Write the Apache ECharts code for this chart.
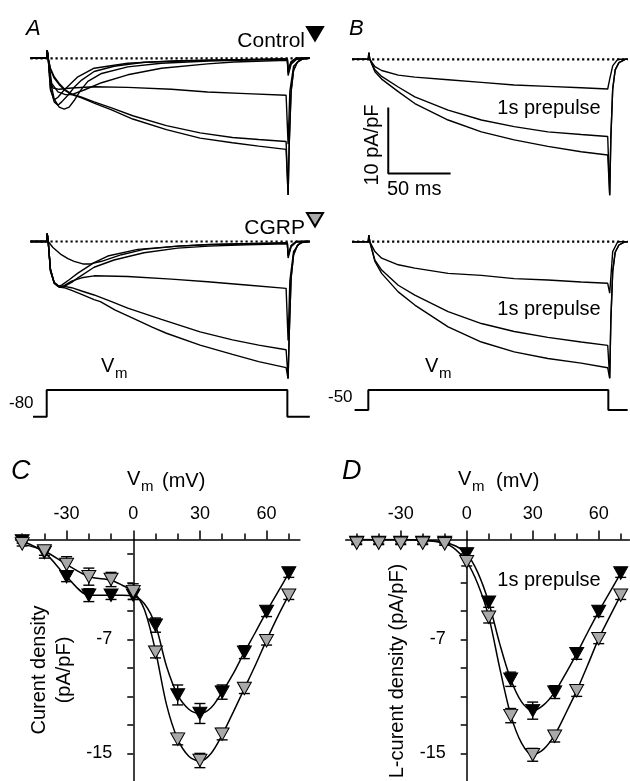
<!DOCTYPE html>
<html><head><meta charset="utf-8">
<script src="https://cdn.jsdelivr.net/npm/echarts@6/dist/echarts.min.js"></script>
<style>html,body{margin:0;padding:0;background:#fff}#c{width:630px;height:781px}</style>
</head><body><div id="c"></div>
<script>
// ---------- Panel A/B current traces: [time ms, current pA/pF] ----------
const ctlT1 = [[-13,0],[0,0],[0.4,1.2],[1.2,0],[3,-3.5],[6,-6.2],[10,-7.4],[14,-7.7],[18,-7.4],[22,-6.4],[27,-4.9],[33,-3.5],[44,-2.3],[65,-1.3],[92,-0.75],[130,-0.4],[160,-0.25],[193,-0.15],[193.6,-2.2],[196,-0.7],[200,0],[211,0]];
const ctlT2 = [[-13,0],[0,0],[0.4,1.2],[1.2,0],[3,-4.5],[6,-6.6],[9,-7.1],[12,-6.6],[17,-5.6],[22,-4.4],[28,-3.3],[38,-2.0],[54,-1.2],[78,-0.6],[130,-0.3],[193,-0.1],[193.6,-2.0],[196,-0.6],[200,0],[211,0]];
const ctlT3 = [[-13,0],[0,0],[0.4,1.2],[1.2,0],[3,-4.8],[6,-6.3],[9,-5.9],[14,-4.8],[20,-3.7],[25,-2.8],[38,-1.5],[65,-0.76],[105,-0.35],[193,-0.1],[193.6,-1.8],[196,-0.5],[200,0],[211,0]];
const ctlT4 = [[-13,0],[0,0],[0.4,1.2],[1.2,0],[4,-3.8],[9,-5.1],[15,-5.5],[20,-5.5],[30,-4.8],[44,-3.7],[65,-2.5],[92,-1.5],[129,-0.85],[150,-0.55],[193,-0.3],[193.6,-2.6],[196,-0.9],[200,-0.2],[211,0]];
const ctlF  = [[-13,0],[0,0],[0.4,1.2],[1.2,0],[3,-3.6],[5,-4.5],[10,-4.7],[20,-4.5],[38,-4.3],[65,-4.4],[100,-4.7],[129,-5.1],[160,-5.35],[192,-5.6],[193,-5.6],[193.6,-13],[195,-5],[198,-1.2],[203,-0.2],[211,0]];
const ctlL1 = [[-13,0],[0,0],[0.4,1.2],[1.2,0],[3,-1.5],[6,-2.8],[10,-3.8],[15,-4.8],[20,-5.4],[28,-5.9],[38,-6.6],[52,-7.5],[69,-8.7],[96,-10.2],[123,-11.3],[149,-12.0],[170,-12.3],[192,-12.6],[193,-12.6],[193.6,-20.7],[194.5,-13],[196,-5],[198,-1.8],[201,-0.6],[206,0],[211,0]];
const ctlL2 = [[-13,0],[0,0],[0.4,1.2],[1.2,0],[3,-1.7],[6,-3.0],[10,-4.0],[15,-4.9],[20,-5.5],[28,-6.0],[38,-6.8],[52,-7.8],[69,-9.2],[96,-10.8],[123,-12.1],[149,-12.8],[170,-13.3],[192,-13.8],[193,-13.8],[193.6,-20.7],[194.5,-13],[196,-5],[198,-1.8],[201,-0.6],[206,0],[211,0]];

const cgrpG1 = [[-13,0],[0,0],[0.4,1.2],[1.2,0],[5,-0.9],[11.7,-2.0],[17,-2.6],[22,-3.0],[29,-3.4],[35,-3.4],[44,-3.0],[60,-2.0],[78,-1.2],[105,-0.7],[129,-0.5],[160,-0.35],[193,-0.25],[193.6,-2],[196,-0.6],[200,0],[211,0]];
const cgrpG2 = [[-13,0],[0,0],[0.4,1.2],[1.2,0],[3,-4.5],[6,-6.3],[9,-6.8],[12,-6.6],[18,-5.8],[25,-4.8],[38,-3.2],[49,-2.2],[73,-1.2],[105,-0.7],[130,-0.45],[193,-0.2],[193.6,-2.2],[196,-0.7],[200,0],[211,0]];
const cgrpG3 = [[-13,0],[0,0],[0.4,1.2],[1.2,0],[3,-4.2],[6,-6.2],[10,-6.9],[14,-6.8],[20,-6.2],[25,-5.5],[38,-3.9],[54,-2.8],[78,-1.7],[105,-1.0],[130,-0.7],[160,-0.5],[193,-0.35],[193.6,-2.5],[196,-0.8],[200,-0.1],[211,0]];
const cgrpF  = [[-13,0],[0,0],[0.4,1.2],[1.2,0],[3,-4.2],[6,-6.3],[10,-6.9],[14,-6.7],[20,-6.0],[28,-5.5],[38,-5.2],[65,-5.3],[100,-5.7],[129,-6.1],[160,-6.6],[192,-7.1],[193,-7.1],[193.6,-15],[195,-6],[198,-1.5],[203,-0.2],[211,0]];
const cgrpS1 = [[-13,0],[0,0],[0.4,1.2],[1.2,0],[3,-4.3],[6,-6.2],[10,-6.8],[14,-6.8],[20,-7.0],[28,-7.5],[38,-8.1],[52,-9.1],[65,-10.1],[92,-11.8],[123,-13.7],[149,-14.9],[170,-15.7],[192,-16.4],[193,-16.4],[193.6,-20.7],[194.5,-14],[196,-5.5],[198,-2],[201,-0.6],[206,0],[211,0]];
const cgrpS2 = [[-13,0],[0,0],[0.4,1.2],[1.2,0],[3,-4.4],[6,-6.3],[10,-6.9],[14,-7.0],[20,-7.4],[28,-8.0],[38,-8.8],[43,-9.1],[55,-10.4],[69,-11.6],[85,-13.0],[96,-13.9],[123,-15.7],[149,-17.1],[170,-18.2],[192,-19.1],[193,-19.1],[193.6,-20.8],[194.5,-14],[196,-5.5],[198,-2],[201,-0.6],[206,0],[211,0]];

const preCtl1 = [[-13,0],[0,0],[0.4,1.0],[1.2,0],[5.3,-1.1],[10.7,-1.7],[24,-2.4],[37.3,-2.7],[64,-3.1],[90.7,-3.5],[117,-3.9],[144,-4.1],[170.7,-4.3],[192,-4.5],[193,-4.5],[193.6,-3],[196,-1],[200,0],[208,0]];
const preCtl2 = [[-13,0],[0,0],[0.4,1.0],[1.2,0],[5.3,-1.6],[10.7,-2.6],[24,-4.2],[37.3,-5.7],[64,-7.7],[90.7,-9.2],[117,-10.2],[144,-11.0],[170.7,-11.4],[192,-11.7],[193,-11.7],[193.6,-20.6],[194.5,-12],[196,-4.5],[198,-1.6],[201,-0.5],[206,0],[208,0]];
const preCtl3 = [[-13,0],[0,0],[0.4,1.0],[1.2,0],[5.3,-1.9],[10.7,-3.0],[24,-4.9],[37.3,-6.7],[64,-9.2],[90.7,-11.0],[117,-12.2],[144,-13.2],[170.7,-14.0],[192,-14.5],[193,-14.5],[193.6,-20.6],[194.5,-12],[196,-4.5],[198,-1.6],[201,-0.5],[206,0],[208,0]];
const preCgrp1 = [[-13,0],[0,0],[0.4,1.0],[1.2,0],[5.3,-1.5],[10.7,-2.5],[24,-3.5],[37.3,-4.0],[64,-4.8],[90.7,-5.1],[117,-5.6],[144,-5.8],[170.7,-6.1],[192,-6.3],[193,-6.3],[193.6,-7.8],[196,-1.5],[200,0],[208,0]];
const preCgrp2 = [[-13,0],[0,0],[0.4,1.0],[1.2,0],[5.3,-2.8],[10.7,-4.3],[24,-6.6],[37.3,-8.1],[64,-10.6],[90.7,-12.4],[117,-13.6],[144,-14.5],[170.7,-15.2],[192,-15.7],[193,-15.7],[193.6,-20.7],[194.5,-12],[196,-4.5],[198,-1.6],[201,-0.5],[206,0],[208,0]];
const preCgrp3 = [[-13,0],[0,0],[0.4,1.0],[1.2,0],[5.3,-3.0],[10.7,-4.8],[24,-7.6],[37.3,-9.6],[64,-12.9],[90.7,-15.2],[117,-16.7],[144,-17.7],[170.7,-18.4],[192,-19.1],[193,-19.1],[193.6,-20.7],[194.5,-12],[196,-4.5],[198,-1.6],[201,-0.5],[206,0],[208,0]];

const baselineA = [[-13,0],[211,0]];
const baselineB = [[-13,0],[208,0]];
const scaleBar = [[16,-7.3],[16,-17.3],[66,-17.3]];   // 10 pA/pF, 50 ms
const protoA = [[-11,-80],[0,-80],[0,0],[193,0],[193,-80],[211,-80]];
const protoB = [[-11,-50],[0,-50],[0,0],[192.5,0],[192.5,-50],[208,-50]];

// ---------- Panels C/D: I-V ----------
const volts = [-50,-40,-30,-20,-10,0,10,20,30,40,50,60,70];
const ctlC  = [-0.1,-0.9,-2.6,-3.9,-3.9,-3.9,-6.0,-10.9,-12.2,-10.7,-7.9,-5.05,-2.35];
const cgrpC = [-0.3,-0.8,-1.75,-2.6,-2.8,-3.65,-7.9,-14.0,-15.5,-13.65,-10.45,-7.1,-3.9];
const ctlCErr  = [0.15,0.4,0.35,0.45,0.3,0.3,0.5,0.7,0.7,0.5,0.45,0.35,0.3];
const cgrpCErr = [0.15,0.3,0.55,0.6,0.5,0.55,0.4,0.4,0.5,0.4,0.35,0.3,0.3];
const ctlD  = [-0.2,-0.2,-0.2,-0.2,-0.2,-1.0,-4.4,-9.8,-12.0,-10.7,-8.0,-5.05,-2.35];
const cgrpD = [-0.25,-0.25,-0.25,-0.25,-0.3,-1.55,-5.45,-12.35,-15.1,-13.8,-10.6,-6.95,-3.9];
const ctlDErr  = [0.1,0.1,0.1,0.1,0.1,0.3,0.35,0.5,0.6,0.45,0.4,0.35,0.3];
const cgrpDErr = [0.1,0.1,0.1,0.1,0.1,0.3,0.4,0.5,0.45,0.4,0.4,0.35,0.3];

const fitV = [-50,-40,-30,-20,-10,-5,0,5,10,15,20,25,30,35,40,45,50,55,60,65,70];
const ctlFitC  = [-0.1,-0.9,-2.6,-3.9,-3.9,-3.9,-3.95,-4.5,-6.0,-8.9,-10.9,-11.9,-12.2,-11.8,-10.7,-9.4,-7.9,-6.5,-5.05,-3.7,-2.35];
const cgrpFitC = [-0.3,-0.8,-1.75,-2.6,-2.85,-3.2,-3.65,-4.9,-7.8,-11.6,-14.0,-15.2,-15.55,-15.0,-13.7,-12.1,-10.45,-8.8,-7.05,-5.4,-3.9];
const ctlFitD  = [0,0,0,-0.05,-0.2,-0.45,-1.0,-2.3,-4.4,-7.3,-9.8,-11.4,-12.0,-11.6,-10.7,-9.4,-8.0,-6.5,-5.05,-3.7,-2.35];
const cgrpFitD = [0,0,0,-0.05,-0.25,-0.7,-1.55,-3.1,-5.4,-9.0,-12.3,-14.3,-15.1,-14.7,-13.7,-12.2,-10.6,-8.8,-6.95,-5.4,-3.9];

const xMajor = [-30,0,30,60];
const xMinor = [-50,-40,-20,-10,10,20,40,50,70];
const yTicks = [-1,-3,-5,-7,-9,-11,-13,-15];
const yLabels = [-7,-15];

// ---------- build ----------
const FONT = '"Liberation Sans", Arial, Helvetica, sans-serif';
const chart = echarts.init(document.getElementById('c'), null, {renderer:'canvas'});
const zip = (xs, ys) => xs.map((x,i)=>[x, ys[i]]);
const zip3 = (xs, ys, es) => xs.map((x,i)=>[x, ys[i], es[i]]);

const hiddenAxis = (grid, min, max) => ({type:'value', gridIndex:grid, min, max, show:false});
const G = (left, top, width, height) => ({left, top, width, height, containLabel:false, outerBoundsMode:'none'});
const grids = [
  G(30.5, 45.1, 279.3, 158.4), G(30.5, 228.3, 279.3, 158.4),
  G(352.1, 46.1, 279.3, 158.4), G(352.1, 228.5, 279.3, 158.4),
  G(30.5, 383.3, 279.3, 40), G(352.1, 382, 279.3, 36),
  G(15.5, 539.6, 284.4, 242.3), G(345.7, 539.6, 283.8, 242.3)
];

const xAxes = [
  hiddenAxis(0,-13,211), hiddenAxis(1,-13,211), hiddenAxis(2,-13,211), hiddenAxis(3,-13,211),
  hiddenAxis(4,-13,211), hiddenAxis(5,-13,211)
];
const yAxes = [
  hiddenAxis(0,-22,2), hiddenAxis(1,-22,2), hiddenAxis(2,-22,2), hiddenAxis(3,-22,2),
  hiddenAxis(4,-100,20), hiddenAxis(5,-70,20)
];
function ivAxes(grid, xmin, xmax, zeroOffset) {
  xAxes.push({type:'value', gridIndex:grid, position:'top', min:xmin, max:xmax,
    axisLine:{show:true, onZero:false, lineStyle:{color:'#000', width:1.5}},
    axisTick:{show:true, inside:false, length:9, customValues:xMajor, lineStyle:{color:'#000', width:1.5}},
    axisLabel:{show:true, customValues:xMajor, margin:17, fontSize:18, color:'#000', fontFamily:FONT},
    splitLine:{show:false}});
  xAxes.push({type:'value', gridIndex:grid, position:'top', min:xmin, max:xmax,
    axisLine:{show:false, onZero:false},
    axisTick:{show:true, inside:false, length:6, customValues:xMinor, lineStyle:{color:'#000', width:1.5}},
    axisLabel:{show:false}, splitLine:{show:false}});
  yAxes.push({type:'value', gridIndex:grid, min:-17, max:0, position:'left', offset:-zeroOffset,
    axisLine:{show:true, onZero:false, lineStyle:{color:'#000', width:1.5}},
    axisTick:{show:true, inside:false, length:6, customValues:yTicks, lineStyle:{color:'#000', width:1.5}},
    axisLabel:{show:true, customValues:yLabels, margin:21, fontSize:18, color:'#000', fontFamily:FONT},
    splitLine:{show:false}});
}
// offset of the V=0 line from each grid's left edge: (0 - min) * width / (max - min)
ivAxes(6, -53, 75, 53 * 284.4 / 128);   // xAxis 6,7 ; yAxis 6
ivAxes(7, -55, 74, 55 * 283.8 / 129);   // xAxis 8,9 ; yAxis 7

const series = [];
const trace = (data, i, w) => series.push({type:'line', data, xAxisIndex:i, yAxisIndex:i, symbol:'none',
  lineStyle:{color:'#000', width:w||1.4}, silent:true, z:3});
const dotted = (data, i) => series.push({type:'line', data, xAxisIndex:i, yAxisIndex:i, symbol:'none',
  lineStyle:{color:'#000', width:2.2, type:[2.2,2.8]}, z:2, silent:true});
dotted(baselineA,0); dotted(baselineA,1); dotted(baselineB,2); dotted(baselineB,3);
[ctlT1, ctlT2, ctlT3, ctlT4, ctlF, ctlL1, ctlL2].forEach(d=>trace(d,0));
[cgrpG1, cgrpG2, cgrpG3, cgrpF, cgrpS1, cgrpS2].forEach(d=>trace(d,1));
[preCtl1, preCtl2, preCtl3].forEach(d=>trace(d,2));
[preCgrp1, preCgrp2, preCgrp3].forEach(d=>trace(d,3));
trace(scaleBar,2,2);
trace(protoA,4,2);
trace(protoB,5,2);

function errSeries(data, xi, yi) {
  return {type:'custom', xAxisIndex:xi, yAxisIndex:yi, data, encode:{x:0,y:1}, z:4, silent:true,
    renderItem:(params, api)=>{
      const x=api.value(0), y=api.value(1), e=api.value(2);
      const t=api.coord([x,y+e]), b=api.coord([x,y-e]); const hw=5.5;
      const st={stroke:'#000', lineWidth:1.4};
      return {type:'group', children:[
        {type:'line', shape:{x1:t[0],y1:t[1],x2:b[0],y2:b[1]}, style:st},
        {type:'line', shape:{x1:t[0]-hw,y1:t[1],x2:t[0]+hw,y2:t[1]}, style:st},
        {type:'line', shape:{x1:b[0]-hw,y1:b[1],x2:b[0]+hw,y2:b[1]}, style:st}]};
    }};
}
function fit(data, xi, yi) {
  return {type:'line', data, xAxisIndex:xi, yAxisIndex:yi, symbol:'none', smooth:0.3,
    lineStyle:{color:'#000', width:1.5}, z:3, silent:true};
}
function markers(name, data, xi, yi, fill, z) {
  return {type:'scatter', name, data, xAxisIndex:xi, yAxisIndex:yi, symbol:'triangle', symbolRotate:180,
    symbolSize:[14,12.5], itemStyle:{color:fill, borderColor:'#000', borderWidth:1, opacity:1}, z, silent:true};
}
series.push(fit(zip(fitV, ctlFitC),6,6), fit(zip(fitV, cgrpFitC),6,6));
series.push(errSeries(zip3(volts, ctlC, ctlCErr),6,6), errSeries(zip3(volts, cgrpC, cgrpCErr),6,6));
series.push(markers('Control', zip(volts, ctlC),6,6,'#000',5), markers('CGRP', zip(volts, cgrpC),6,6,'#a9a9a9',6));
series.push(fit(zip(fitV, ctlFitD),8,7), fit(zip(fitV, cgrpFitD),8,7));
series.push(errSeries(zip3(volts, ctlD, ctlDErr),8,7), errSeries(zip3(volts, cgrpD, cgrpDErr),8,7));
series.push(markers('Control', zip(volts, ctlD),8,7,'#000',5), markers('CGRP', zip(volts, cgrpD),8,7,'#a9a9a9',6));

const T = (text, x, y, size, o) => ({type:'text', x, y, silent:true, rotation:(o&&o.rot)||0,
  style:{text, fontSize:size, fontFamily:FONT, fontStyle:(o&&o.italic)?'italic':'normal', fill:'#000',
    align:(o&&o.align)||'left', verticalAlign:'middle'}});
const graphic = [
  T('A', 26, 29, 22, {italic:true}), T('B', 349, 29, 22, {italic:true}),
  T('C', 11, 471, 27, {italic:true}), T('D', 342, 471, 27, {italic:true}),
  T('Control', 305, 41, 21, {align:'right'}), T('CGRP', 305, 228, 21, {align:'right'}),
  T('1s prepulse', 549, 108, 20, {align:'center'}), T('1s prepulse', 549, 309, 20, {align:'center'}),
  T('1s prepulse', 549, 580, 20, {align:'center'}),
  T('10 pA/pF', 372, 145, 20, {align:'center', rot:Math.PI/2}), T('50 ms', 387, 189, 20),
  T('V', 101, 366, 20), T('m', 115, 374, 15), T('V', 425, 366, 20), T('m', 439, 374, 15),
  T('-80', 9, 403, 17), T('-50', 328, 397, 17),
  T('V', 127, 479, 20), T('m', 141, 487, 15), T('(mV)', 162, 481, 20),
  T('V', 458, 479, 20), T('m', 472, 487, 15), T('(mV)', 496, 481, 20),
  T('Curent density', 39, 670, 20, {align:'center', rot:Math.PI/2}),
  T('(pA/pF)', 64, 670, 20, {align:'center', rot:Math.PI/2}),
  T('L-curent density (pA/pF)', 397, 671, 20, {align:'center', rot:Math.PI/2})
];
const triIcon = 'path://M0,0L20,0L10,17Z';
chart.setOption({
  animation:false,
  textStyle:{fontFamily:FONT},
  grid:grids, xAxis:xAxes, yAxis:yAxes, series, graphic,
  legend:[
    {data:['Control'], left:306, top:26, icon:triIcon, itemWidth:16, itemHeight:14, selectedMode:false, formatter:()=>'', itemGap:0, padding:0, textStyle:{fontSize:2}},
    {data:['CGRP'], left:306, top:212, icon:triIcon, itemWidth:16, itemHeight:14, selectedMode:false, formatter:()=>'', itemGap:0, padding:0, textStyle:{fontSize:2}}
  ]
});
</script></body></html>
